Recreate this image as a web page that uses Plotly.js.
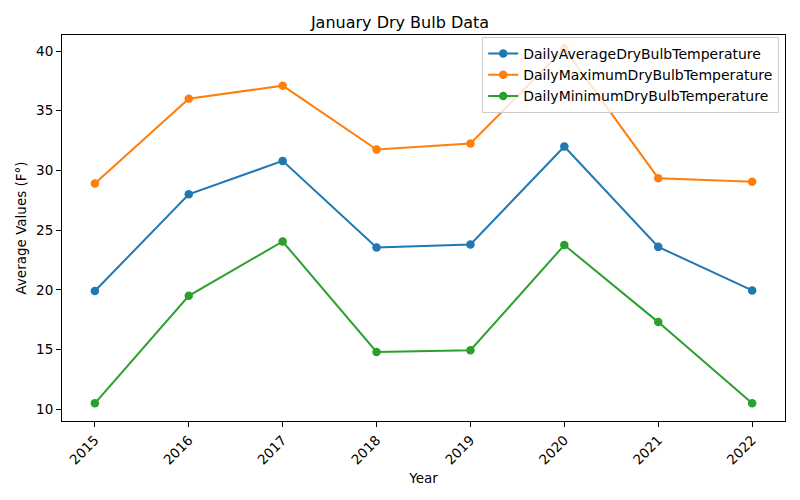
<!DOCTYPE html>
<html>
<head>
<meta charset="utf-8">
<script src="https://cdn.plot.ly/plotly-3.0.1.min.js"></script>
<style>html,body{margin:0;padding:0;background:#fff;}#chart{width:800px;height:500px;}</style>
</head>
<body>
<div id="chart"></div>
<script>
const years = [2015, 2016, 2017, 2018, 2019, 2020, 2021, 2022];
const avgTemp = [19.9, 28.0, 30.8, 23.55, 23.8, 32.0, 23.6, 19.95];
const maxTemp = [28.9, 36.0, 37.1, 31.75, 32.25, 40.2, 29.35, 29.05];
const minTemp = [10.5, 19.5, 24.05, 14.8, 14.95, 23.75, 17.3, 10.5];
const seriesNames = ["DailyAverageDryBulbTemperature", "DailyMaximumDryBulbTemperature", "DailyMinimumDryBulbTemperature"];
const colors = ["#1f77b4", "#ff7f0e", "#2ca02c"];
const tickText = years.map(String);

const data = [avgTemp, maxTemp, minTemp].map((ys, i) => ({
  x: years, y: ys, name: seriesNames[i], type: "scatter", mode: "lines+markers",
  line: {color: colors[i], width: 2},
  marker: {color: colors[i], size: 8.5}
}));

const font = {family: "DejaVu Sans, sans-serif", size: 13, color: "#000"};
const layout = {
  width: 800, height: 500,
  margin: {l: 62, r: 15, t: 35, b: 79},
  paper_bgcolor: "#fff", plot_bgcolor: "#fff",
  font: font,
  title: {text: "January Dry Bulb Data", font: {family: font.family, size: 16, color: "#000"}, x: 0.5, xanchor: "center", y: 1 - 22/500, yanchor: "middle"},
  xaxis: {
    range: [2014.65, 2022.35], tickvals: years, ticktext: tickText, tickangle: -45,
    showgrid: false, zeroline: false, showline: true, mirror: true, linecolor: "#000", linewidth: 1,
    ticks: "outside", ticklen: 5, tickcolor: "#000", tickfont: {size: 13.5},
    title: {text: "Year", font: {size: 13.5}, standoff: 6}
  },
  yaxis: {
    range: [9.02, 41.34], tickvals: [10, 15, 20, 25, 30, 35, 40],
    showgrid: false, zeroline: false, showline: true, mirror: true, linecolor: "#000", linewidth: 1,
    ticks: "outside", ticklen: 5, tickcolor: "#000", tickfont: {size: 13.5},
    title: {text: "Average Values (F°)", font: {size: 13.5}, standoff: 6}
  },
  legend: {
    x: 0.992, xanchor: "right", y: 0.995, yanchor: "top",
    bgcolor: "rgba(255,255,255,0.8)", bordercolor: "#cccccc", borderwidth: 1,
    font: {size: 14}, tracegroupgap: 0, itemwidth: 30
  },
  showlegend: true
};
Plotly.newPlot("chart", data, layout, {displayModeBar: false, staticPlot: true});
</script>
</body>
</html>
